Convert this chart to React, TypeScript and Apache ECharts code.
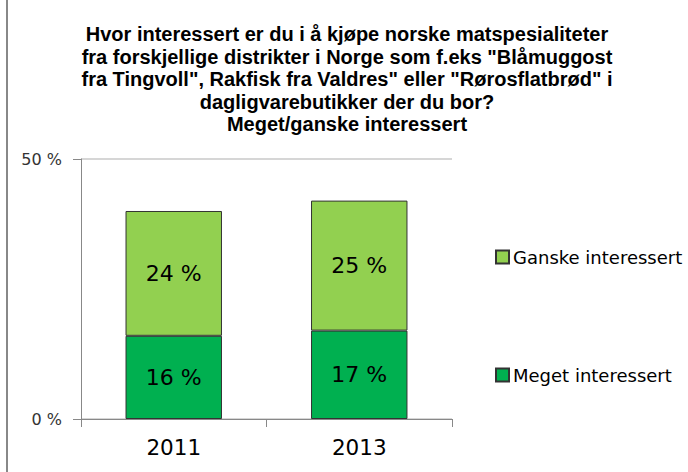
import React, { useEffect, useRef } from "react";
import * as echarts from "echarts";

const titleLines = [
  "Hvor interessert er du i å kjøpe norske matspesialiteter",
  "fra forskjellige distrikter i Norge som f.eks \"Blåmuggost",
  "fra Tingvoll\", Rakfisk fra Valdres\" eller \"Rørosflatbrød\" i",
  "dagligvarebutikker der du bor?",
  "Meget/ganske interessert",
];
const years = ["2011", "2013"];
const meget = [16, 17];
const ganske = [24, 25];
const seriesNames = ["Meget interessert", "Ganske interessert"];
const labelFont = "'DejaVu Sans', Verdana, sans-serif";

export default function App() {
  const ref = useRef<HTMLDivElement>(null);
  useEffect(() => {
    const chart = echarts.init(ref.current!, undefined, { renderer: "svg" });
    chart.setOption({
      animation: false,
      backgroundColor: "#ffffff",
      title: {
        text: titleLines.join("\n"),
        left: 342,
        textAlign: "center",
        top: 18,
        textStyle: {
          fontFamily: "'Liberation Sans Narrow', 'Liberation Sans', Arial, sans-serif",
          fontWeight: "bold",
          fontSize: 20,
          lineHeight: 22.5,
          color: "#000",
        },
      },
      legend: {
        data: [seriesNames[1], seriesNames[0]],
        orient: "vertical",
        left: 490,
        top: 243,
        itemGap: 100,
        itemWidth: 13,
        itemHeight: 13,
        icon: "rect",
        textStyle: { fontFamily: labelFont, fontSize: 18, color: "#000", padding: [0, 0, 0, -1] },
      },
      grid: { left: 81, right: 236, top: 159, bottom: 53 },
      xAxis: {
        type: "category",
        data: years,
        axisLine: { lineStyle: { color: "#888", width: 1 } },
        axisTick: { show: true, length: 8, lineStyle: { color: "#888" } },
        axisLabel: { fontFamily: labelFont, fontSize: 21.5, color: "#000", margin: 17 },
      },
      yAxis: {
        type: "value",
        min: 0,
        max: 50,
        interval: 50,
        axisLine: { show: true, lineStyle: { color: "#888", width: 1 } },
        axisTick: { show: true, length: 8, lineStyle: { color: "#888" } },
        axisLabel: { fontFamily: labelFont, fontSize: 16, color: "#333", margin: 19, formatter: "{value} %" },
        splitLine: { show: true, lineStyle: { color: "#c8c8c8", width: 1.5 } },
      },
      series: [
        {
          name: seriesNames[0],
          type: "bar",
          stack: "a",
          data: meget,
          barWidth: "52%",
          itemStyle: { color: "#00B050", borderColor: "#333", borderWidth: 1 },
          label: { show: true, position: "inside", formatter: "{c} %", fontFamily: labelFont, fontSize: 22, color: "#000" },
        },
        {
          name: seriesNames[1],
          type: "bar",
          stack: "a",
          data: ganske,
          barWidth: "52%",
          itemStyle: { color: "#92D050", borderColor: "#333", borderWidth: 1 },
          label: { show: true, position: "inside", formatter: "{c} %", fontFamily: labelFont, fontSize: 22, color: "#000" },
        },
      ],
      graphic: [
        { type: "line", shape: { x1: 7, y1: 0, x2: 7, y2: 472 }, style: { stroke: "#888", lineWidth: 2 } },
      ],
    });
    return () => chart.dispose();
  }, []);
  return <div ref={ref} style={{ width: 688, height: 472, position: "absolute", left: 0, top: 0 }} />;
}
